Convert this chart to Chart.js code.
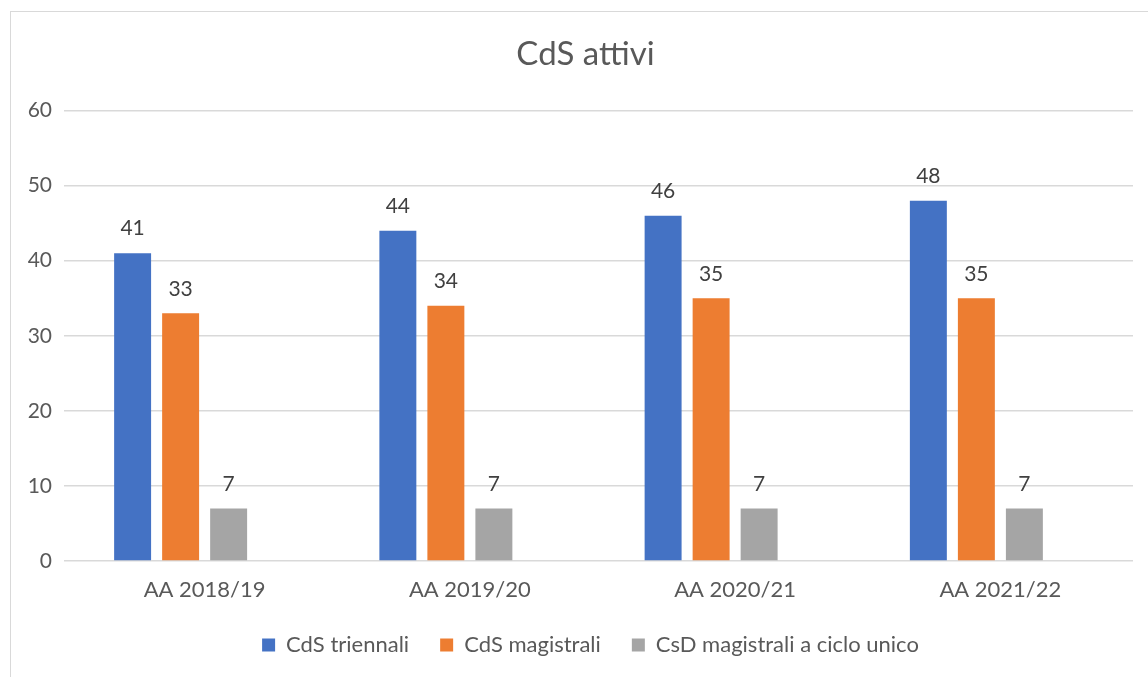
<!DOCTYPE html>
<html>
<head>
<meta charset="utf-8">
<script src="https://cdn.jsdelivr.net/npm/chart.js@4"></script>
<style>
  html, body { margin: 0; padding: 0; background: #fff; overflow: hidden; }
  #frame { position: absolute; left: 10px; top: 11px; width: 1160px; height: 700px; border: 1px solid #d9d9d9; }
  #wrap { position: absolute; left: 0; top: 0; width: 1148px; height: 677px; }
</style>
</head>
<body>
<div id="frame"></div>
<div id="wrap"><canvas id="cdsChart"></canvas></div>
<script>
// dati
const anni = ['AA 2018/19', 'AA 2019/20', 'AA 2020/21', 'AA 2021/22'];
const triennali = [41, 44, 46, 48];
const magistrali = [33, 34, 35, 35];
const cicloUnico = [7, 7, 7, 7];
const vuoto = [null, null, null, null]; // slot vuoto come in Excel

const testo = '#595959';

// etichette sopra le barre
const etichette = {
    id: 'etichette',
    afterDatasetsDraw(chart) {
        const ctx = chart.ctx;
        ctx.save();
        ctx.font = '21px Lato';
        ctx.fillStyle = '#404040';
        ctx.textAlign = 'center';
        ctx.textBaseline = 'bottom';
        chart.data.datasets.forEach((ds, i) => {
            if (ds.label === '') return;
            chart.getDatasetMeta(i).data.forEach((bar, j) => {
                if (ds.data[j] == null) return;
                ctx.fillText(ds.data[j], bar.x, bar.y - 14);
            });
        });
        ctx.restore();
    }
};

// titolo e legenda un po' a destra, come nell'originale
const sposta = {
    id: 'sposta',
    afterLayout(chart) {
        if (chart.titleBlock) { chart.titleBlock.left += 19; chart.titleBlock.right += 19; }
        if (chart.legend) { chart.legend.left += 24; chart.legend.right += 24; }
    }
};

const cdsCtx = document.getElementById('cdsChart').getContext('2d');
const cdsChart = new Chart(cdsCtx, {
    type: 'bar',
    data: {
        labels: anni,
        datasets: [
            { label: 'CdS triennali', data: triennali, backgroundColor: '#4472C4' },
            { label: 'CdS magistrali', data: magistrali, backgroundColor: '#ED7D31' },
            { label: 'CsD magistrali a ciclo unico', data: cicloUnico, backgroundColor: '#A5A5A5' },
            { label: '', data: vuoto, backgroundColor: 'rgba(0,0,0,0)' }
        ]
    },
    options: {
        responsive: true,
        maintainAspectRatio: false,
        animation: false,
        datasets: { bar: { categoryPercentage: 0.724, barPercentage: 0.77 } },
        layout: { padding: { left: 0, right: 15, top: 35, bottom: 11 } },
        plugins: {
            title: {
                display: true,
                text: 'CdS attivi',
                color: testo,
                font: { family: 'Lato', size: 33, weight: 'normal' },
                padding: { top: 0, bottom: 36 }
            },
            legend: {
                position: 'bottom',
                labels: {
                    color: testo,
                    font: { family: 'Lato', size: 22 },
                    boxWidth: 13,
                    boxHeight: 13,
                    padding: 31,
                    filter: item => item.text !== ''
                }
            },
            tooltip: { enabled: false }
        },
        scales: {
            x: {
                grid: { display: false },
                border: { display: false },
                ticks: { color: testo, font: { family: 'Lato', size: 22 }, padding: 8 },
                afterFit(scale) { scale.height = 42; }
            },
            y: {
                min: 0,
                max: 60,
                ticks: { stepSize: 10, color: testo, font: { family: 'Lato', size: 21 }, padding: 12 },
                grid: { color: '#d9d9d9', lineWidth: 1.5 },
                border: { display: false },
                afterFit(scale) { scale.width = 72; }
            }
        }
    },
    plugins: [etichette, sposta]
});
</script>
</body>
</html>
